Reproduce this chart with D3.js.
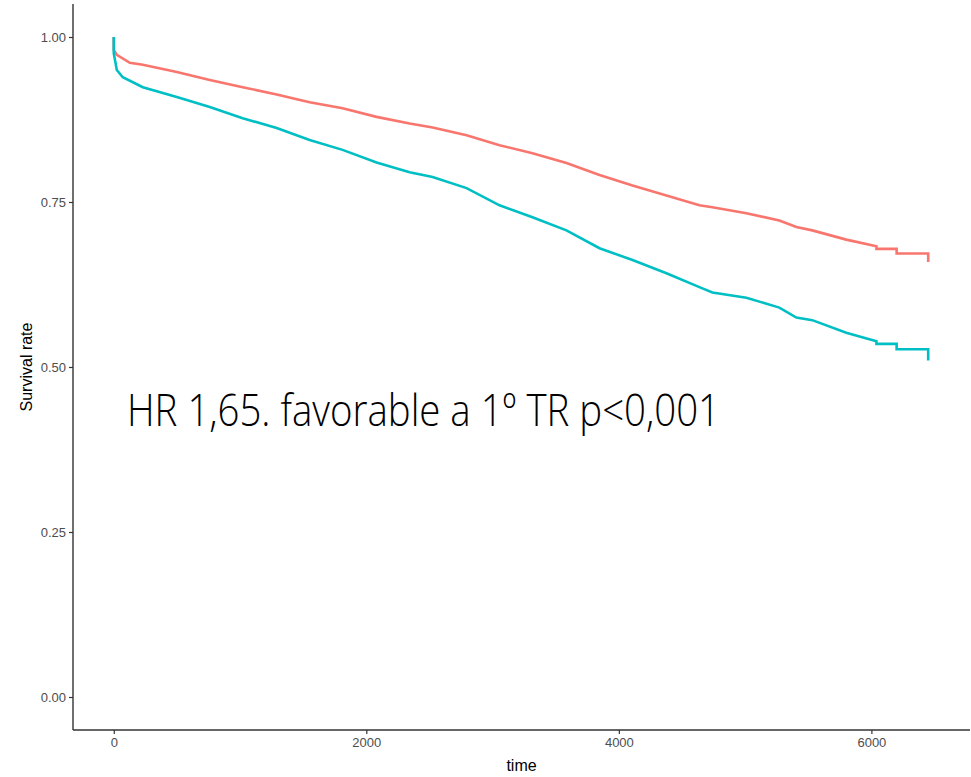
<!DOCTYPE html>
<html>
<head>
<meta charset="utf-8">
<script src="https://cdn.jsdelivr.net/npm/d3@7"></script>
<style>
  body { margin: 0; background: #fff; }
  svg { display: block; }
</style>
</head>
<body>
<div id="chart"></div>
<script>
// data (time, survival)
var redTime = [0, 0, 24, 127, 230, 499, 760, 1021, 1290, 1551, 1812, 2081, 2343, 2525, 2794, 3055, 3316, 3585, 3847, 4108, 4377, 4638, 4741, 5010, 5271, 5406, 5532, 5801, 6040, 6040, 6200, 6200, 6450, 6450];
var redSurv = [1.000, 0.980, 0.973, 0.961, 0.958, 0.947, 0.935, 0.924, 0.913, 0.901, 0.892, 0.879, 0.869, 0.863, 0.851, 0.836, 0.824, 0.809, 0.791, 0.775, 0.760, 0.745, 0.742, 0.733, 0.722, 0.712, 0.707, 0.693, 0.683, 0.679, 0.679, 0.672, 0.672, 0.659];

var tealTime = [0, 0, 24, 71, 230, 499, 760, 1021, 1290, 1551, 1812, 2081, 2343, 2525, 2794, 3055, 3316, 3585, 3847, 4108, 4377, 4638, 4741, 5010, 5271, 5406, 5532, 5801, 6040, 6040, 6200, 6200, 6450, 6450];
var tealSurv = [1.000, 0.975, 0.950, 0.939, 0.924, 0.909, 0.894, 0.877, 0.862, 0.844, 0.829, 0.810, 0.795, 0.788, 0.771, 0.745, 0.727, 0.707, 0.680, 0.662, 0.642, 0.621, 0.613, 0.605, 0.590, 0.575, 0.571, 0.552, 0.539, 0.535, 0.535, 0.527, 0.527, 0.510];

var xTicks = [0, 2000, 4000, 6000];
var yTicks = [0, 0.25, 0.5, 0.75, 1];

var groups = ["red", "teal"];
var colors = d3.scaleOrdinal(groups, ["#F8766D", "#00BFC4"]);

var width = 971, height = 777;
var margin = {top: 4, right: 1, bottom: 47, left: 73};

var svg = d3.select("#chart")
  .append("svg")
  .attr("width", width)
  .attr("height", height);

// ggplot style 5% expansion
var x = d3.scaleLinear()
  .domain([-323, 6781])
  .range([margin.left, width - margin.right]);

var y = d3.scaleLinear()
  .domain([-0.05, 1.05])
  .range([height - margin.bottom, margin.top]);

var series = [
  {name: "red", pts: redTime.map((t, i) => ({t: t, s: redSurv[i]}))},
  {name: "teal", pts: tealTime.map((t, i) => ({t: t, s: tealSurv[i]}))}
];

var line = d3.line()
  .x(d => x(d.t))
  .y(d => y(d.s));

svg.selectAll("path.km")
  .data(series)
  .join("path")
  .attr("class", "km")
  .attr("d", d => line(d.pts))
  .style("fill", "none")
  .style("stroke", d => colors(d.name))
  .style("stroke-width", 2.6)
  .style("stroke-linejoin", "miter");

// axes
var xAxis = g => g
  .attr("transform", `translate(0,${height - margin.bottom})`)
  .call(d3.axisBottom(x).tickValues(xTicks).tickSize(4).tickPadding(4).tickFormat(d3.format("d")))
  .call(g => g.select(".domain").attr("d", `M${margin.left},0H${width - margin.right}`));

var yAxis = g => g
  .attr("transform", `translate(${margin.left},0)`)
  .call(d3.axisLeft(y).tickValues(yTicks).tickSize(4).tickPadding(3).tickFormat(d3.format(".2f")))
  .call(g => g.select(".domain").attr("d", `M0,${margin.top}V${height - margin.bottom}`));

svg.append("g").call(xAxis);
svg.append("g").call(yAxis);

svg.selectAll(".domain")
  .style("stroke", "#333")
  .style("stroke-width", 1.4);
svg.selectAll(".tick line")
  .style("stroke", "#333")
  .style("stroke-width", 1.2);
svg.selectAll(".tick text")
  .attr("font-family", "Liberation Sans, Arial, sans-serif")
  .attr("font-size", 13)
  .attr("fill", "#4D4D4D");

// axis titles
svg.append("text")
  .attr("x", (margin.left + width - margin.right) / 2)
  .attr("y", 771)
  .attr("text-anchor", "middle")
  .attr("font-family", "Liberation Sans, Arial, sans-serif")
  .attr("font-size", 16)
  .text("time");

svg.append("text")
  .attr("transform", `translate(32,${(margin.top + height - margin.bottom) / 2}) rotate(-90)`)
  .attr("text-anchor", "middle")
  .attr("font-family", "Liberation Sans, Arial, sans-serif")
  .attr("font-size", 16)
  .text("Survival rate");

// annotation
svg.append("text")
  .attr("x", 127)
  .attr("y", 426)
  .attr("font-family", "Open Sans, sans-serif")
  .attr("font-weight", 300)
  .attr("font-size", 45)
  .attr("textLength", 593)
  .attr("lengthAdjust", "spacingAndGlyphs")
  .attr("fill", "#000")
  .text("HR 1,65. favorable a 1º TR p<0,001");
</script>
</body>
</html>
